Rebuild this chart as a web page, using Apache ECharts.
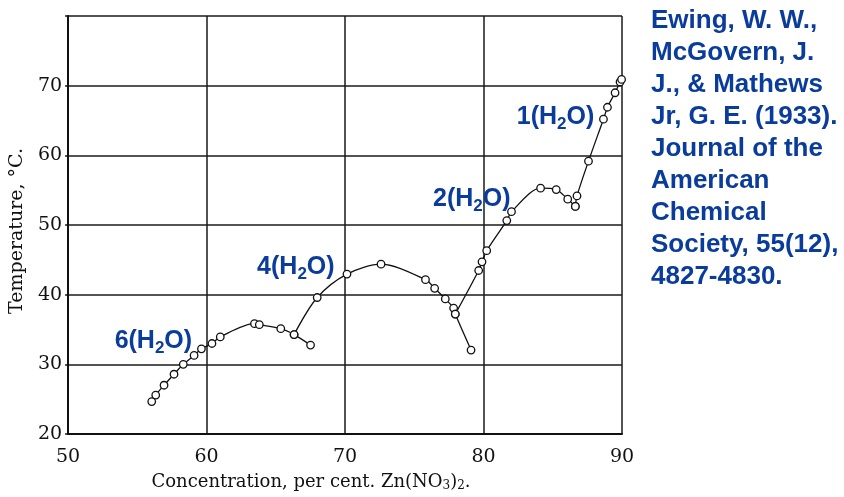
<!DOCTYPE html>
<html>
<head>
<meta charset="utf-8">
<script src="https://cdn.jsdelivr.net/npm/echarts@6/dist/echarts.min.js"></script>
<style>
  html, body { margin: 0; padding: 0; background: #fff; }
  #chart { width: 844px; height: 497px; }
</style>
</head>
<body>
<div id="chart"></div>
<script>
  // 六水合物 (6 H2O) 分支
  const hexaX = [56.04, 56.33, 56.93, 57.65, 58.32, 59.10, 59.63, 60.39, 60.99, 63.46, 63.81, 65.36, 66.32, 67.51]
  const hexaY = [24.65, 25.59, 27.00, 28.58, 30.00, 31.28, 32.23, 32.99, 33.94, 35.83, 35.69, 35.12, 34.27, 32.76]
  // 四水合物
  const tetraX = [66.32, 67.99, 70.14, 72.60, 75.81, 76.47, 77.24, 77.84, 77.96, 79.10]
  const tetraY = [34.27, 39.59, 42.95, 44.37, 42.15, 40.91, 39.39, 38.07, 37.21, 32.05]
  // 二水合物
  const diX = [77.96, 79.65, 79.89, 80.23, 81.68, 82.02, 84.12, 85.25, 86.08, 86.63]
  const diY = [37.21, 43.47, 44.71, 46.32, 50.63, 51.91, 55.28, 55.09, 53.71, 52.67]
  // 一水合物
  const monoX = [86.63, 86.75, 87.58, 88.66, 88.95, 89.50, 89.86, 89.97]
  const monoY = [52.67, 54.18, 59.16, 65.19, 66.90, 68.98, 70.54, 70.90]

  const xTicks = [50, 60, 70, 80, 90]
  const yTicks = [20, 30, 40, 50, 60, 70]

  // 标注位置 (数据坐标)
  const labelNames = ['6', '4', '2', '1']
  const labelX = [56.16, 66.45, 79.15, 85.20]
  const labelY = [33.4, 44.0, 53.7, 65.5]

  const refLines = ['Ewing, W. W.,', 'McGovern, J.', 'J., & Mathews', 'Jr, G. E. (1933).',
    'Journal of the', 'American', 'Chemical', 'Society, 55(12),', '4827-4830.']

  const blue = '#0a3c9c'
  const serif = 'DejaVu Serif'

  function pairs(xs, ys) {
    return xs.map((x, i) => [x, ys[i]])
  }

  function branch(xs, ys) {
    return {
      type: 'line',
      data: pairs(xs, ys),
      smooth: 0.3,
      symbol: 'circle',
      symbolSize: 7.5,
      itemStyle: { color: '#fff', borderColor: '#111', borderWidth: 1.3 },
      lineStyle: { color: '#111', width: 1.3 },
      z: 3
    }
  }

  // 水合物标注, 挂在一个透明散点系列上 (下标用 top 对齐 + padding 压低)
  const labelSeries = {
    type: 'scatter',
    data: pairs(labelX, labelY),
    symbolSize: 1,
    itemStyle: { color: 'rgba(0,0,0,0)', opacity: 1 },
    silent: true,
    z: 5,
    label: {
      show: true,
      position: 'inside',
      formatter: p => '{a|' + labelNames[p.dataIndex] + '(H}{s|2}{a|O)}',
      rich: {
        a: { fontFamily: 'Liberation Sans', fontWeight: 'bold', fontSize: 25, lineHeight: 26, color: blue },
        s: {
          fontFamily: 'Liberation Sans', fontWeight: 'bold', fontSize: 17, lineHeight: 10, color: blue,
          verticalAlign: 'top', padding: [12, 0, 0, 0]
        }
      }
    }
  }

  const chart = echarts.init(document.getElementById('chart'))
  const option = {
    backgroundColor: '#fff',
    animation: false,
    grid: { left: 64, right: 222, top: 16, bottom: 60 },
    xAxis: {
      type: 'value',
      min: xTicks[0],
      max: xTicks[xTicks.length - 1],
      interval: 10,
      name: '{t|Concentration, per cent. Zn(NO}{s|3}{t|)}{s|2}{t|.}',
      nameLocation: 'middle',
      nameGap: 38,
      nameTextStyle: {
        padding: [0, 68, 0, 0],
        rich: {
          t: { fontFamily: serif, fontSize: 18, lineHeight: 20, color: '#111' },
          s: {
            fontFamily: serif, fontSize: 12, lineHeight: 6, color: '#111',
            verticalAlign: 'top', padding: [8, 0, 0, 0]
          }
        }
      },
      axisLine: { show: true, lineStyle: { color: '#111', width: 2 } },
      axisTick: { show: false },
      axisLabel: { fontFamily: serif, fontSize: 19, color: '#111', margin: 14 },
      splitLine: { show: true, lineStyle: { color: '#1a1a1a', width: 1.5 } }
    },
    yAxis: {
      type: 'value',
      min: 20,
      max: 80,
      interval: 10,
      name: 'Temperature, °C.',
      nameLocation: 'middle',
      nameGap: 33,
      nameTextStyle: { fontFamily: serif, fontSize: 19, color: '#111', padding: [0, 12, 0, 0] },
      axisLine: { show: true, lineStyle: { color: '#111', width: 2 } },
      axisTick: { show: true, length: 3, lineStyle: { color: '#111', width: 1.5 } },
      axisLabel: {
        fontFamily: serif, fontSize: 19, color: '#111', margin: 6,
        formatter: v => (yTicks.indexOf(v) >= 0 ? String(v) : '')
      },
      splitLine: { show: true, lineStyle: { color: '#1a1a1a', width: 1.5 } }
    },
    graphic: [{
      type: 'text',
      left: 651,
      top: 5,
      style: {
        text: refLines.join('\n'),
        fontFamily: 'Liberation Sans',
        fontWeight: 'bold',
        fontSize: 26,
        lineHeight: 32,
        fill: blue
      }
    }],
    series: [
      branch(hexaX, hexaY),
      branch(tetraX, tetraY),
      branch(diX, diY),
      branch(monoX, monoY),
      labelSeries
    ]
  }
  chart.setOption(option)
</script>
</body>
</html>
